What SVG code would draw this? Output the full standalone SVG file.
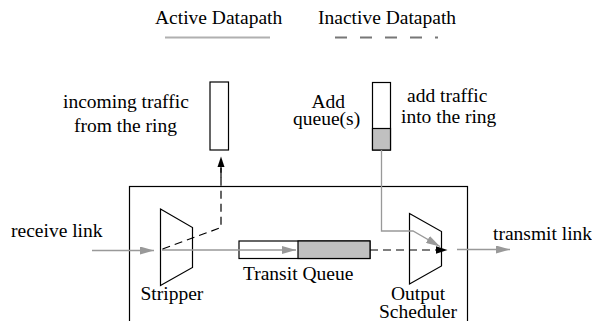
<svg xmlns="http://www.w3.org/2000/svg" width="592" height="321" viewBox="0 0 592 321">
<defs>
<style>
text{font-family:"Liberation Serif","Times New Roman",serif;font-size:19.5px;fill:#000}
.box{fill:none;stroke:#000;stroke-width:1.2}
.q{fill:#fff;stroke:#000;stroke-width:1.2}
.qf{fill:#c0c0c0;stroke:#000;stroke-width:1.2}
.act{fill:none;stroke:#999;stroke-width:1.3}
.ina{fill:none;stroke:#000;stroke-width:1.2;stroke-dasharray:8 5}
</style>
<marker id="ag" viewBox="0 0 14 8" refX="14" refY="4" markerWidth="14" markerHeight="8" markerUnits="userSpaceOnUse" orient="auto"><path d="M0,0 L14,4 L0,8 Z" fill="#999"/></marker>
<marker id="ab" viewBox="0 0 12 8" refX="12" refY="4" markerWidth="12" markerHeight="8" markerUnits="userSpaceOnUse" orient="auto"><path d="M0,0 L12,4 L0,8 Z" fill="#000"/></marker>
</defs>
<g id="legend">
<text x="155" y="24">Active Datapath</text>
<text x="318" y="24">Inactive Datapath</text>
<line x1="165" y1="37.5" x2="270" y2="37.5" stroke="#b0b0b0" stroke-width="2"/>
<line x1="335" y1="37.5" x2="438" y2="37.5" stroke="#777" stroke-width="2" stroke-dasharray="12 13"/>
</g>
<g id="node-box"><rect class="box" x="129.5" y="186.5" width="338" height="150"/></g>
<g id="node-incoming">
<rect class="q" x="210" y="82" width="18.5" height="68"/>
<text x="63" y="108">incoming traffic</text>
<text x="74" y="131.5">from the ring</text>
</g>
<g id="node-add">
<rect class="q" x="372.5" y="82.5" width="18" height="67.5"/>
<rect class="qf" x="372.5" y="128.5" width="18" height="21.5"/>
<text x="311.5" y="108">Add</text>
<text x="293" y="125">queue(s)</text>
<text x="407" y="101.5">add traffic</text>
<text x="401" y="122.5">into the ring</text>
</g>
<g id="node-stripper">
<path class="box" d="M160.5,209 L192.5,227.5 L192.5,267.5 L160.5,285.5 Z"/>
<text x="140.5" y="300">Stripper</text>
</g>
<g id="node-transit">
<rect class="q" x="239" y="241" width="131" height="17.5"/>
<rect class="qf" x="298" y="241" width="72" height="17.5"/>
<text x="243" y="280">Transit Queue</text>
</g>
<g id="node-scheduler">
<path class="box" d="M409.5,213.5 L441.5,231.5 L441.5,266 L409.5,284 Z"/>
<text x="418" y="300" text-anchor="middle">Output</text>
<text x="418" y="317.5" text-anchor="middle">Scheduler</text>
</g>
<g id="labels">
<text x="11" y="236.5">receive link</text>
<text x="493" y="240">transmit link</text>
</g>
<g id="connectors">
<line class="act" x1="92" y1="250.5" x2="154" y2="250.5" marker-end="url(#ag)"/>
<line class="act" x1="162" y1="250" x2="296" y2="250" marker-end="url(#ag)"/>
<path class="ina" d="M162.5,249 L221,227.5 L221,168"/>
<path d="M221,156.5 L224.5,167 L217.5,167 Z" fill="#000"/>
<line x1="221" y1="167" x2="221" y2="178" stroke="#000" stroke-width="1.2"/>
<polyline class="act" points="381.5,150 381.5,231 413,231 440,246.5" marker-end="url(#ag)"/>
<line class="ina" x1="370" y1="250" x2="447.5" y2="250" marker-end="url(#ab)"/>
<line class="act" x1="457" y1="249.5" x2="510" y2="249.5" marker-end="url(#ag)"/>
</g>
</svg>
